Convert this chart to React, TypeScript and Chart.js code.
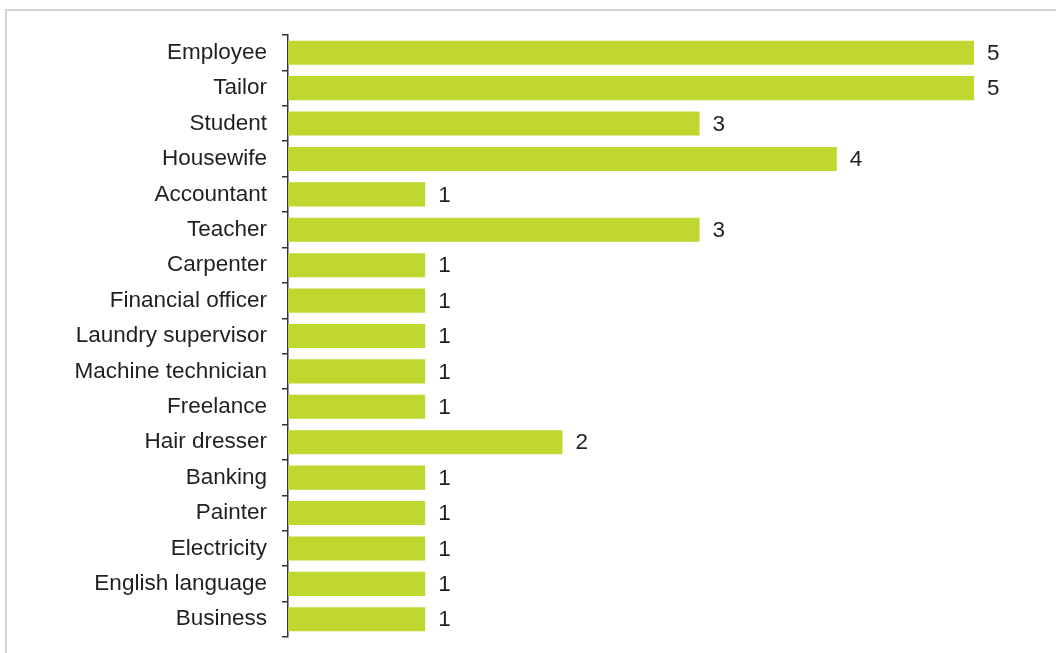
import React, { useEffect, useRef } from "react";
import { Chart, registerables } from "chart.js";

Chart.register(...registerables);

const categories = [
  "Employee", "Tailor", "Student", "Housewife", "Accountant", "Teacher", "Carpenter",
  "Financial officer", "Laundry supervisor", "Machine technician", "Freelance",
  "Hair dresser", "Banking", "Painter", "Electricity", "English language", "Business",
];
const counts = [5, 5, 3, 4, 1, 3, 1, 1, 1, 1, 1, 2, 1, 1, 1, 1, 1];

const FONT = "'Liberation Sans', Arial, sans-serif";
const TEXT = "#231f20";
const GREEN = "#bfd730";

const valueLabels = {
  id: "valueLabels",
  afterDatasetsDraw(chart: any) {
    const ctx = chart.ctx;
    const meta = chart.getDatasetMeta(0);
    ctx.save();
    ctx.font = `22.5px ${FONT}`;
    ctx.fillStyle = TEXT;
    ctx.textAlign = "left";
    ctx.textBaseline = "middle";
    meta.data.forEach((bar: any, i: number) => {
      ctx.fillText(String(counts[i]), bar.x + 13, bar.y + 1);
    });
    ctx.restore();
  },
};

export default function App() {
  const ref = useRef<HTMLCanvasElement | null>(null);
  useEffect(() => {
    document.body.style.margin = "0";
    const chart = new Chart(ref.current as HTMLCanvasElement, {
      type: "bar",
      data: {
        labels: categories,
        datasets: [
          {
            data: counts,
            backgroundColor: GREEN,
            borderWidth: 0,
            categoryPercentage: 1,
            barPercentage: 0.68,
          },
        ],
      },
      options: {
        indexAxis: "y",
        animation: false,
        responsive: false,
        layout: { padding: { left: 0, top: 35, bottom: 16, right: 82 } },
        plugins: { legend: { display: false }, tooltip: { enabled: false } },
        scales: {
          x: { display: false, min: 0, max: 5 },
          y: {
            afterFit: (s: any) => {
              s.width = 288;
              s.paddingTop = 0;
              s.paddingBottom = 0;
            },
            grid: {
              offset: true,
              drawOnChartArea: false,
              drawTicks: true,
              tickLength: 6,
              color: "#333",
              lineWidth: 1.5,
            },
            border: { display: true, color: "#333", width: 1.5 },
            ticks: {
              padding: 15,
              color: TEXT,
              font: { family: FONT, size: 22.5 },
            },
          },
        },
      },
      plugins: [valueLabels],
    });
    return () => chart.destroy();
  }, []);
  return (
    <div style={{ position: "relative", width: 1056, height: 653, background: "#fff", overflow: "hidden" }}>
      <div
        style={{
          position: "absolute",
          left: 5,
          top: 9,
          right: -10,
          bottom: -10,
          borderTop: "2px solid #d3d3d3",
          borderLeft: "2px solid #d3d3d3",
        }}
      />
      <canvas ref={ref} width={1056} height={653} style={{ position: "absolute", left: 0, top: 0 }} />
    </div>
  );
}
